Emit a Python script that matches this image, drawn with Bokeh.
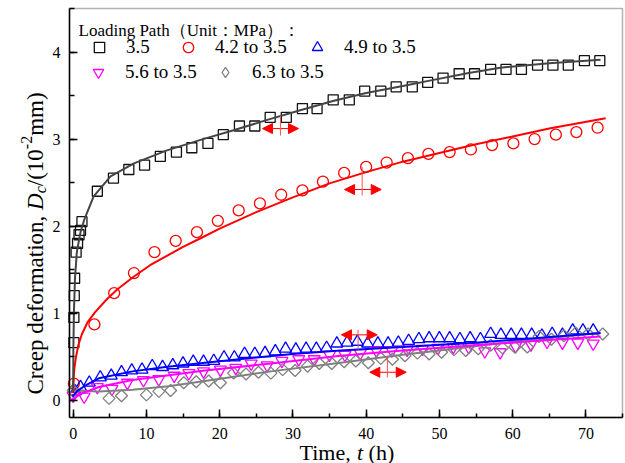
import math
from bokeh.plotting import figure
from bokeh.models import (Range1d, SingleIntervalTicker, Legend, LegendItem, Label,
                          Arrow, NormalHead, BoxAnnotation, ColumnDataSource, CDSView, IndexFilter)
from bokeh.embed import file_html
from bokeh.resources import INLINE

# ---------------- data ----------------
t_35 = [0.1, 0.1, 0.15, 0.2, 0.4, 0.6, 0.8, 1.0, 1.2, 3.3, 5.5, 7.6, 9.75, 11.9, 14.1, 16.2, 18.4,
        20.5, 22.7, 24.8, 26.9, 29.1, 31.3, 33.3, 35.5, 37.7, 39.8, 42.0, 44.1, 46.3, 48.4, 50.5,
        52.7, 54.8, 57.0, 59.1, 61.2, 63.4, 65.5, 67.6, 69.8, 71.9]
d_35 = [0.66, 0.95, 1.2, 1.4, 1.7, 1.8, 1.9, 1.95, 2.05, 2.4, 2.55, 2.65, 2.7, 2.8, 2.85, 2.9, 2.95,
        3.05, 3.15, 3.15, 3.25, 3.25, 3.35, 3.35, 3.45, 3.45, 3.55, 3.55, 3.6, 3.6, 3.65, 3.7,
        3.75, 3.75, 3.8, 3.8, 3.8, 3.85, 3.85, 3.85, 3.9, 3.9]

t_42 = [0.1, 2.9, 5.6, 8.3, 11.1, 14.0, 16.9, 19.75, 22.6, 25.5, 28.4, 31.3, 34.1, 37.0, 40.0,
        42.8, 45.7, 48.5, 51.4, 54.3, 57.2, 60.1, 63.0, 65.9, 68.7, 71.6]
d_42 = [0.19, 0.87, 1.23, 1.46, 1.70, 1.83, 1.93, 2.06, 2.18, 2.26, 2.36, 2.41, 2.51, 2.61, 2.68,
        2.73, 2.78, 2.83, 2.85, 2.88, 2.93, 2.95, 3.0, 3.05, 3.08, 3.13]

t_49 = [0.3, 1.0, 2.2, 3.7, 5.2, 6.6, 8.0, 9.4, 10.8, 12.2, 13.6, 15.0, 16.4, 17.8, 19.2, 20.6,
        22.0, 23.4, 24.8, 26.2, 27.6, 29.0, 30.4, 31.8, 33.2, 34.6, 36.0, 37.4, 38.8, 40.2, 41.6,
        43.0, 44.4, 45.8, 47.2, 48.6, 50.0, 51.4, 52.8, 54.2, 55.6, 57.0, 58.4, 59.8, 61.2, 62.6,
        64.0, 65.4, 66.8, 68.2, 69.6, 71.0]
d_49 = [0.10, 0.15, 0.20, 0.26, 0.28, 0.32, 0.34, 0.35, 0.39, 0.38, 0.40, 0.42, 0.44, 0.44, 0.45,
        0.49, 0.49, 0.53, 0.53, 0.54, 0.56, 0.59, 0.58, 0.59, 0.59, 0.60, 0.65, 0.66, 0.67, 0.65,
        0.65, 0.65, 0.66, 0.68, 0.70, 0.71, 0.71, 0.71, 0.70, 0.71, 0.70, 0.76, 0.75, 0.75, 0.75,
        0.75, 0.74, 0.76, 0.75, 0.80, 0.80, 0.80]

t_56 = [0.0, 1.5, 3.3, 5.3, 7.4, 9.6, 11.7, 13.8, 15.8, 17.8, 20.1, 22.2, 24.3, 26.5, 28.5, 30.8,
        32.9, 35.0, 37.1, 39.2, 41.4, 43.5, 45.6, 47.7, 49.8, 51.9, 54.0, 56.2, 58.3, 60.4, 62.5,
        64.7, 66.8, 68.9, 71.0]
d_56 = [0.05, 0.04, 0.15, 0.13, 0.20, 0.23, 0.24, 0.28, 0.31, 0.33, 0.35, 0.37, 0.42, 0.40, 0.45,
        0.47, 0.47, 0.52, 0.52, 0.54, 0.57, 0.57, 0.58, 0.59, 0.60, 0.61, 0.61, 0.56, 0.55, 0.62,
        0.64, 0.67, 0.66, 0.66, 0.65]

t_63 = [0.0, 4.9, 6.6, 10.0, 11.7, 13.3, 15.1, 16.8, 18.5, 20.1, 21.9, 23.6, 25.3, 27.0, 28.6,
        30.3, 32.0, 33.6, 35.3, 37.0, 38.6, 40.3, 42.0, 43.6, 45.3, 47.0, 48.6, 50.3, 52.0, 53.6,
        55.3, 57.0, 58.6, 60.3, 62.0, 63.6, 65.3, 67.0, 68.6, 70.3, 72.3]
d_63 = [0.11, 0.02, 0.05, 0.06, 0.10, 0.11, 0.20, 0.21, 0.22, 0.20, 0.31, 0.30, 0.32, 0.31, 0.35,
        0.34, 0.39, 0.42, 0.42, 0.44, 0.45, 0.43, 0.48, 0.47, 0.51, 0.54, 0.53, 0.55, 0.58, 0.57,
        0.59, 0.63, 0.60, 0.61, 0.61, 0.73, 0.70, 0.74, 0.77, 0.76, 0.76]

# fitted curves
ft_35 = [0.0, 0.03, 0.1, 0.25, 0.5, 1.0, 1.5, 2.8, 5.1, 8.3, 12.8, 17.4, 21.9, 26.5, 31.0, 35.6,
         40.0, 45.0, 49.2, 54.0, 58.3, 65.0, 72.0]
fd_35 = [0.10, 0.60, 1.00, 1.40, 1.70, 1.93, 2.07, 2.34, 2.57, 2.72, 2.87, 2.99, 3.10, 3.22, 3.33,
         3.44, 3.53, 3.61, 3.68, 3.76, 3.82, 3.87, 3.91]
ft_42 = [0.0, 0.05, 0.15, 0.35, 0.7, 1.2, 2.0, 3.0, 4.5, 6.0, 8.3, 10.5, 12.85, 15.0, 17.4, 20.0,
         25.0, 30.0, 35.0, 40.0, 45.0, 50.0, 55.0, 60.0, 65.0, 72.7]
fd_42 = [0.08, 0.22, 0.35, 0.48, 0.63, 0.76, 0.90, 1.01, 1.15, 1.27, 1.42, 1.55, 1.66, 1.76, 1.86,
         1.97, 2.16, 2.33, 2.49, 2.62, 2.74, 2.84, 2.94, 3.03, 3.12, 3.24]
ft_49 = [-0.1, 0.5, 1.7, 3.5, 8.1, 12.6, 18.0, 25.0, 30.0, 36.5, 45.0, 54.9, 63.0, 72.0]
fd_49 = [0.04, 0.10, 0.17, 0.25, 0.33, 0.38, 0.43, 0.49, 0.53, 0.57, 0.61, 0.66, 0.71, 0.77]
ft_56 = [-0.2, 1.0, 3.5, 8.1, 18.0, 27.0, 36.5, 45.0, 54.9, 63.0, 72.0]
fd_56 = [0.00, 0.07, 0.15, 0.23, 0.34, 0.42, 0.51, 0.57, 0.63, 0.68, 0.73]
ft_63 = [-0.2, 3.5, 8.1, 13.0, 18.0, 27.0, 36.5, 45.0, 54.9, 63.0, 72.0]
fd_63 = [0.11, 0.10, 0.12, 0.16, 0.22, 0.33, 0.43, 0.52, 0.62, 0.70, 0.77]

labels = ["3.5", "4.2 to 3.5", "4.9 to 3.5", "5.6 to 3.5", "6.3 to 3.5"]
legend_title = "Loading Path（Unit：MPa）："
x_ticks_interval = 10
y_ticks_interval = 1

# ---------------- layout ----------------
W, H = 625, 463
FL, FR, FT, FB = 69, 622, 8, 417          # plot box on the canvas (px)
X0, X1, Y0, Y1 = -0.5, 75.0, -0.2, 4.5    # data limits of the plot box
FONT = "Liberation Serif"


def dx(px):
    return X0 + (px - FL) * (X1 - X0) / (FR - FL)


def dy(py):
    return Y0 + (FB - py) * (Y1 - Y0) / (FB - FT)


# the frame covers the whole canvas, so that axis titles placed outside the box are not clipped
p = figure(width=W, height=H, output_backend="svg", toolbar_location=None,
           x_range=Range1d(dx(0), dx(W)), y_range=Range1d(dy(H), dy(0)),
           min_border=0, min_border_left=0, min_border_right=0, min_border_top=0,
           min_border_bottom=0)
p.xgrid.visible = False
p.ygrid.visible = False
p.outline_line_color = None
p.background_fill_color = "white"
p.border_fill_color = "white"

p.xaxis[0].fixed_location = Y0
p.yaxis[0].fixed_location = X0
p.xaxis[0].bounds = (X0, X1)
p.yaxis[0].bounds = (Y0, Y1)

for ax, interval, standoff, tin, minin in ((p.xaxis[0], x_ticks_interval, 10, 8, 4),
                                           (p.yaxis[0], y_ticks_interval, 9, 8, 5)):
    ax.ticker = SingleIntervalTicker(interval=interval, num_minor_ticks=2)
    ax.major_tick_in = tin
    ax.major_tick_out = 0
    ax.minor_tick_in = minin
    ax.minor_tick_out = 0
    ax.axis_line_width = 1.5
    ax.axis_line_color = "black"
    ax.major_tick_line_width = 1.5
    ax.minor_tick_line_width = 1.5
    ax.major_label_text_font = FONT
    ax.major_label_text_font_size = "16px"
    ax.major_label_text_color = "black"
    ax.major_label_standoff = standoff

# plot box
p.add_layout(BoxAnnotation(left=X0, right=X1, bottom=Y0, top=Y1, fill_alpha=0,
                           line_color="black", line_width=1.5, level="underlay"))

# markers
ms = dict(fill_color=None, line_width=1.3)
r35 = p.scatter(t_35, d_35, marker="square", size=10, line_color="#111111", **ms)
r42 = p.scatter(t_42, d_42, marker="circle", size=11, line_color="#ff0000", **ms)
r49 = p.scatter(t_49, d_49, marker="triangle", size=12, line_color="#0000ff", **ms)
r56 = p.scatter(t_56, d_56, marker="inverted_triangle", size=12, line_color="#ff00ff", **ms)
src63 = ColumnDataSource(dict(t=t_63, d=d_63))
r63 = p.scatter("t", "d", source=src63, marker="square", angle=math.pi / 4, size=8.5,
                line_color="#808080", **ms)
# legend key for the diamonds (shows only the first point of the same series)
r63_key = p.scatter("t", "d", source=src63, view=CDSView(filter=IndexFilter(indices=[0])),
                    marker="diamond", size=14, line_color="#808080", **ms)

# fit lines
p.line(ft_63, fd_63, line_color="#808080", line_width=2)
p.line(ft_56, fd_56, line_color="#ff00ff", line_width=2)
p.line(ft_49, fd_49, line_color="#0000ff", line_width=2)
p.line(ft_42, fd_42, line_color="#ff0000", line_width=2)
p.line(ft_35, fd_35, line_color="#444444", line_width=2)

# arrows (annotations)
arrows = [  # (x_left, x_right, y, x_cross, y_low, y_high)
    (25.85, 30.76, 3.12, 28.3, 3.04, 3.27),
    (37.05, 42.06, 2.42, 39.46, 2.35, 2.68),
    (36.63, 41.51, 0.75, 38.9, 0.58, 0.81),
    (40.5, 45.47, 0.32, 42.9, 0.26, 0.51),
]
for xl, xr, yy, xc, ylo, yhi in arrows:
    for xe in (xl, xr):
        p.add_layout(Arrow(x_start=xc, y_start=yy, x_end=xe, y_end=yy, line_color="red",
                           line_width=1,
                           end=NormalHead(size=10, fill_color="red", line_color="red")))
    p.add_layout(Arrow(x_start=xc, y_start=ylo, x_end=xc, y_end=yhi, line_color="#ff5050",
                       line_width=1, end=None))

# legend: one legend per item, placed like the reference
leg_common = dict(orientation="horizontal", glyph_width=42, glyph_height=26, label_standoff=6,
                  padding=0, margin=0, spacing=0, border_line_alpha=0, background_fill_alpha=0,
                  label_text_font=FONT, label_text_font_size="19px", label_text_color="black")
leg_pos = [(99, 47), (188, 47), (317, 47), (98, 72), (225, 72)]
for r, lab, (cx, cy) in zip([r35, r42, r49, r56, r63_key], labels, leg_pos):
    leg = Legend(items=[LegendItem(label=lab, renderers=[r])],
                 location=(cx - 21, H - (cy - 13) - 26), **leg_common)
    p.add_layout(leg)

p.add_layout(Label(x=dx(78), y=dy(30), text=legend_title, text_font=FONT,
                   text_font_size="17px", text_color="black", text_baseline="alphabetic"))

# axis titles built from pieces
W_TIMES = {" ": 250, "(": 333, ")": 333, ",": 250, "-": 333, ".": 250, "/": 278, "C": 667,
           "D": 722, "T": 611, "a": 444, "c": 444, "d": 500, "e": 444, "f": 333, "h": 500,
           "i": 278, "m": 778, "n": 500, "o": 500, "p": 500, "r": 333, "t": 278}


def tw(s, size):
    return sum(W_TIMES.get(ch, 500) for ch in s) * size / 1000.0


# x axis title: "Time, t (h)" with italic t
xs = 299.0
xb = 452.0
for txt, style, size, adv in (("Time,", "normal", 22, "Time, "), ("t", "italic", 22, "t "),
                              ("(h)", "normal", 22, "(h)")):
    p.add_layout(Label(x=dx(xs), y=dy(xb), text=txt, text_font=FONT, text_font_style=style,
                       text_font_size=f"{size}px", text_color="black", text_baseline="alphabetic"))
    xs += tw(adv, size)

# y axis title (rotated), runs upward
yb = 35.0
ys = 394.0
pieces = (("Creep deformation,", "normal", 23, 0, "Creep deformation, "),
          ("D", "italic", 23, 0, "D"), ("c", "italic", 16, 5, "c"),
          ("/(10", "normal", 23, 0, "/(10"), ("-2", "normal", 16, -9, "-2"),
          ("mm)", "normal", 23, 0, "mm)"))
for txt, style, size, shift, adv in pieces:
    p.add_layout(Label(x=dx(yb + shift), y=dy(ys), text=txt, text_font=FONT, text_font_style=style,
                       text_font_size=f"{size}px", text_color="black", angle=math.pi / 2,
                       text_baseline="alphabetic", text_align="left"))
    ys -= tw(adv, size)

open("out.html", "w").write(file_html(p, INLINE))
